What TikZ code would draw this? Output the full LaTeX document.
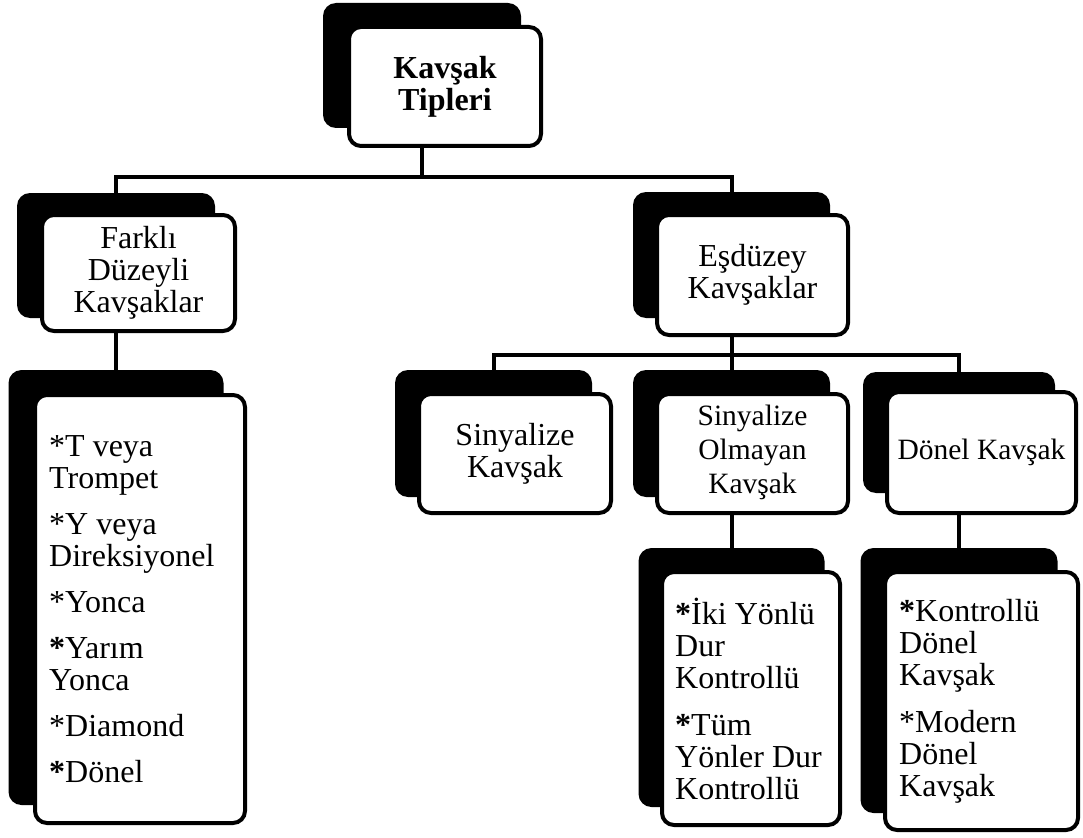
\documentclass[tikz,border=0pt]{standalone}
\usepackage{fontspec}
\setmainfont{Liberation Serif}
\usetikzlibrary{backgrounds}
\tikzset{
  backbox/.style={fill=black, rounded corners=13pt, inner sep=0pt, outer sep=0pt},
  frontbox/.style={fill=white, draw=black, line width=4pt, rounded corners=12pt,
    inner sep=0pt, outer sep=0pt, align=center, font=\fontsize{32}{32}\selectfont},
  smalltext/.style={font=\fontsize{29.5}{34}\selectfont},
  listtext/.style={inner sep=0pt, align=left, anchor=west, xshift=14pt,
    font=\fontsize{32}{32}\selectfont},
  conn/.style={line width=4pt, line join=miter},
}
\begin{document}
\begin{tikzpicture}[x=1pt, y=-1pt]
\useasboundingbox (0,0) rectangle (1083,837);

% root card
\node[backbox, minimum width=198pt, minimum height=125pt] (topS) at (422,65.5) {};
\node[frontbox, minimum width=192pt, minimum height=119pt] (top) at (445,86.5)
  {\textbf{Kavşak}\\\textbf{Tipleri}};

% first level
\node[backbox, minimum width=198pt, minimum height=125pt] (farkliS) at (116,255.5) {};
\node[frontbox, minimum width=193pt, minimum height=116pt] (farkli) at (138.5,273)
  {Farklı\\Düzeyli\\Kavşaklar};

\node[backbox, minimum width=197pt, minimum height=126pt] (esS) at (731.5,255) {};
\node[frontbox, minimum width=191pt, minimum height=120pt] (es) at (752.5,275)
  {Eşdüzey\\Kavşaklar};

% second level
\node[backbox, minimum width=197pt, minimum height=127pt] (sinS) at (493.5,433.5) {};
\node[frontbox, minimum width=192pt, minimum height=119pt] (sin) at (515,453.5)
  {Sinyalize\\Kavşak};

\node[backbox, minimum width=197pt, minimum height=127pt] (olmS) at (731.5,433.5) {};
\node[frontbox, smalltext, minimum width=191pt, minimum height=119pt] (olm) at (752.5,453.5)
  {Sinyalize\\Olmayan\\Kavşak\\[-26pt]\mbox{}};

\node[backbox, minimum width=192pt, minimum height=121pt] (donS) at (959,432.5) {};
\node[frontbox, smalltext, minimum width=189pt, minimum height=121pt] (don) at (981.5,452.5)
  {Dönel Kavşak};

% lists
\node[backbox, minimum width=215pt, minimum height=435pt] (farkliListS) at (116,587.5) {};
\node[frontbox, minimum width=210pt, minimum height=428pt] (farkliList) at (140,609) {};
\node[listtext] (farkliTxt) at (farkliList.west)
  {*T veya\\Trompet\\[14pt]*Y veya\\Direksiyonel\\[14pt]*Yonca\\[14pt]\textbf{*}Yarım\\Yonca\\[14pt]*Diamond\\[14pt]\textbf{*}Dönel};

\node[backbox, minimum width=186pt, minimum height=259pt] (ikiS) at (731.5,677.5) {};
\node[frontbox, minimum width=178pt, minimum height=253pt] (iki) at (751,698.5) {};
\node[listtext, xshift=-1pt] (ikiTxt) at (iki.west)
  {\textbf{*}İki Yönlü\\Dur\\Kontrollü\\[15pt]\textbf{*}Tüm\\Yönler Dur\\Kontrollü};

\node[backbox, minimum width=197pt, minimum height=265pt] (kontS) at (959,680.5) {};
\node[frontbox, minimum width=193pt, minimum height=258pt] (kont) at (981.5,701) {};
\node[listtext] (kontTxt) at (kont.west)
  {\textbf{*}Kontrollü\\Dönel\\Kavşak\\[15pt]*Modern\\Dönel\\Kavşak};

% connectors
\begin{pgfonlayer}{background}
\coordinate (busA) at (422,177);
\draw[conn] (topS.south) -- (busA);
\draw[conn] (farkliS.north) |- (busA) -| (esS.north);
\coordinate (busB) at (731.5,355);
\draw[conn] (esS.south) -- (busB) -- (olmS.north);
\draw[conn] (sinS.north) |- (busB) -| (donS.north);
\draw[conn] (farkliS.south) -- (farkliListS.north);
\draw[conn] (olmS.south) -- (ikiS.north);
\draw[conn] (donS.south) -- (kontS.north);
\end{pgfonlayer}
\end{tikzpicture}
\end{document}
